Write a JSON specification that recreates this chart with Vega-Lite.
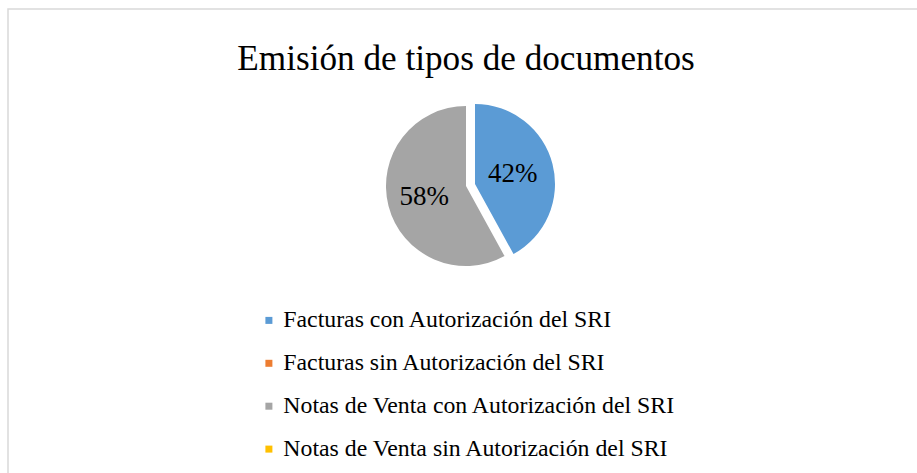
{
  "$schema": "https://vega.github.io/schema/vega-lite/v6.json",
  "autosize": "none",
  "width": 916,
  "height": 500,
  "padding": {"left": 8, "top": 9, "right": 0, "bottom": 0},
  "background": "white",
  "view": {"stroke": "#d9d9d9", "strokeWidth": 1.5, "fill": "white"},
  "config": {
    "font": "Liberation Serif",
    "view": {"stroke": "#d9d9d9", "strokeWidth": 1.5},
    "legend": {
      "symbolType": "square",
      "symbolSize": 49,
      "symbolStrokeWidth": 0,
      "labelFont": "Liberation Serif",
      "labelFontSize": 23.8,
      "labelColor": "#000000",
      "labelLimit": 600,
      "rowPadding": 17.9,
      "labelOffset": 2.5,
      "padding": 0
    }
  },
  "title": {
    "text": "Emisión de tipos de documentos",
    "font": "Liberation Serif",
    "fontSize": 35.2,
    "fontWeight": "normal",
    "color": "#000000",
    "anchor": "middle",
    "offset": -96,
    "baseline": "alphabetic"
  },
  "data": {
    "values": [
      {"tipo": "Facturas con Autorización del SRI", "pct": 0.42},
      {"tipo": "Facturas sin Autorización del SRI", "pct": 0},
      {"tipo": "Notas de Venta con Autorización del SRI", "pct": 0.58},
      {"tipo": "Notas de Venta sin Autorización del SRI", "pct": 0}
    ]
  },
  "encoding": {
    "theta": {"field": "pct", "type": "quantitative", "stack": true},
    "color": {
      "field": "tipo",
      "type": "nominal",
      "scale": {
        "domain": [
          "Facturas con Autorización del SRI",
          "Facturas sin Autorización del SRI",
          "Notas de Venta con Autorización del SRI",
          "Notas de Venta sin Autorización del SRI"
        ],
        "range": ["#5B9BD5", "#ED7D31", "#A5A5A5", "#FFC000"]
      },
      "legend": {
        "title": null,
        "orient": "none",
        "direction": "vertical",
        "legendX": 249,
        "legendY": 299.5,
        "labelFont": "Liberation Serif",
        "labelFontSize": 23.8,
        "labelColor": "#000000",
        "rowPadding": 17.9,
        "labelOffset": 2.5
      }
    }
  },
  "layer": [
    {
      "mark": {"type": "arc", "outerRadius": 80, "xOffset": 0, "yOffset": -73},
      "encoding": {
        "opacity": {"condition": {"test": "datum.tipo === 'Facturas con Autorización del SRI'", "value": 0}, "value": 1}
      }
    },
    {
      "mark": {"type": "arc", "outerRadius": 80, "xOffset": 9, "yOffset": -75},
      "encoding": {
        "opacity": {"condition": {"test": "datum.tipo === 'Facturas con Autorización del SRI'", "value": 1}, "value": 0}
      }
    },
    {
      "mark": {"type": "text", "radius": 39, "font": "Liberation Serif", "fontSize": 27, "dx": 9, "dy": -75},
      "encoding": {
        "text": {"field": "pct", "type": "quantitative", "format": ".0%"},
        "color": {"value": "#000000"},
        "opacity": {"condition": {"test": "datum.tipo === 'Facturas con Autorización del SRI'", "value": 1}, "value": 0}
      }
    },
    {
      "mark": {"type": "text", "radius": 43, "font": "Liberation Serif", "fontSize": 27, "dx": 0, "dy": -73},
      "encoding": {
        "text": {"field": "pct", "type": "quantitative", "format": ".0%"},
        "color": {"value": "#000000"},
        "opacity": {"condition": {"test": "datum.tipo === 'Notas de Venta con Autorización del SRI'", "value": 1}, "value": 0}
      }
    }
  ]
}
